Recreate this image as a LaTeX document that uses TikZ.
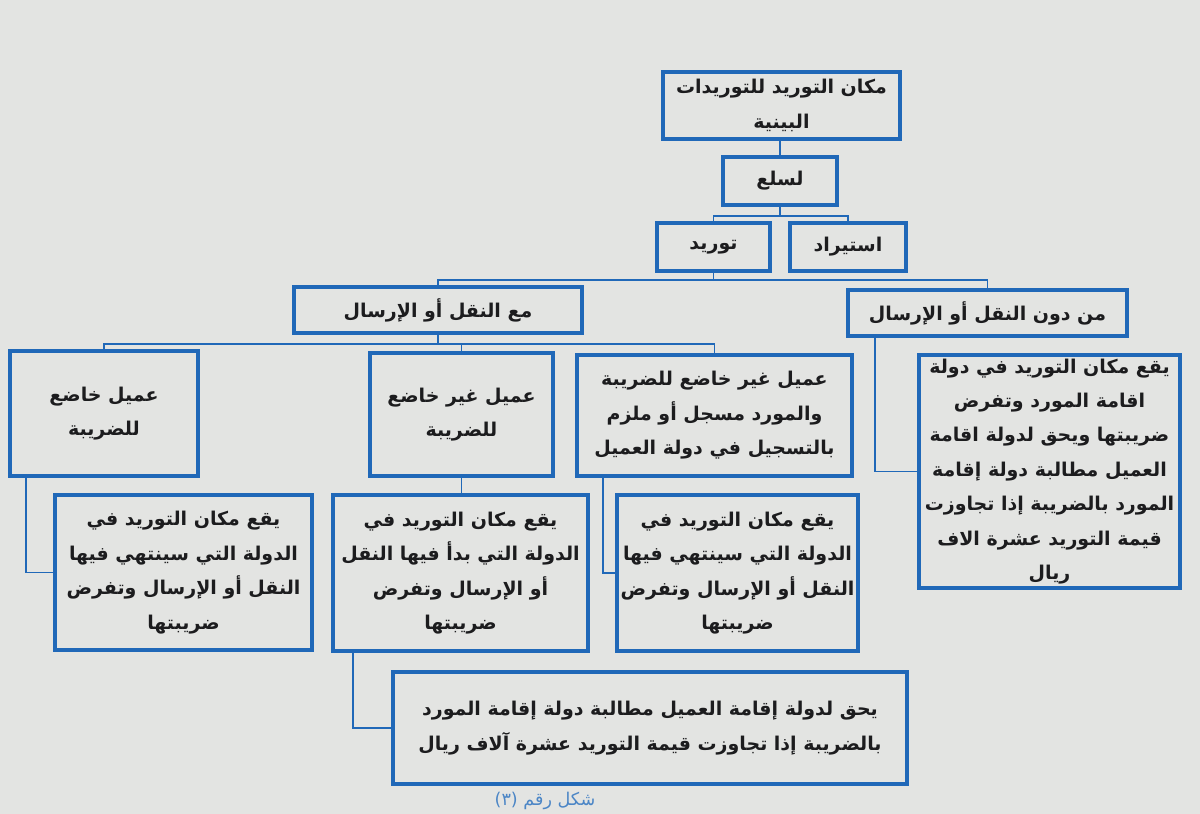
\documentclass[tikz,border=0pt]{standalone}
\usepackage{fontspec}
\usepackage{tikz}
\usetikzlibrary{positioning,calc}
\TeXXeTstate=1
\newfontfamily\arabicfont[Script=Arabic]{DejaVu Sans}
\definecolor{papier}{RGB}{227,228,226}
\definecolor{cadre}{RGB}{32,104,184}
\definecolor{encre}{RGB}{28,28,30}
\newcommand{\ar}[1]{\beginR #1\endR}

\begin{document}
\begin{tikzpicture}[
  x=0.02cm, y=-0.02cm,
  boite/.style={draw=cadre, line width=1.9pt, fill=papier, inner sep=0pt,
                text=encre, align=center,
                font=\arabicfont\bfseries\fontsize{10.8}{19.6}\selectfont},
  lien/.style={draw=cadre, line width=1pt}
]

%% Page
\clip (0,0) rectangle (1200,814);
\fill[papier] (0,0) rectangle (1200,814);

%% Top levels
\node[boite, minimum width=4.74cm, minimum height=1.34cm] (haut) at (781.5,105.5)
  {\ar{مكان التوريد للتوريدات}\\\ar{البينية}};
\node[boite, minimum width=2.28cm, minimum height=0.96cm] (sila) at (780,181) {\ar{لسلع}};
\node[boite, minimum width=2.26cm, minimum height=0.96cm] (tawrid) at (713.5,247) {\ar{توريد}};
\node[boite, minimum width=2.32cm, minimum height=0.96cm] (istirad) at (848,247) {\ar{استيراد}};

%% Transport or not
\node[boite, minimum width=5.76cm, minimum height=0.92cm] (maa) at (438,310) {\ar{مع النقل أو الإرسال}};
\node[boite, minimum width=5.58cm, minimum height=0.92cm] (bidun) at (987.5,313) {\ar{من دون النقل أو الإرسال}};

%% Client cases
\node[boite, minimum width=3.76cm, minimum height=2.50cm] (khadi) at (104,413.5)
  {\ar{عميل خاضع}\\\ar{للضريبة}};
\node[boite, minimum width=3.66cm, minimum height=2.46cm] (ghayr) at (461.5,414.5)
  {\ar{عميل غير خاضع}\\\ar{للضريبة}};
\node[boite, minimum width=5.50cm, minimum height=2.42cm] (musajjal) at (714.5,415.5)
  {\ar{عميل غير خاضع للضريبة}\\\ar{والمورد مسجل أو ملزم}\\\ar{بالتسجيل في دولة العميل}};
\node[boite, minimum width=5.22cm, minimum height=4.66cm] (kabir) at (1049.5,471.5)
  {\ar{يقع مكان التوريد في دولة}\\\ar{اقامة المورد وتفرض}\\\ar{ضريبتها ويحق لدولة اقامة}\\
   \ar{العميل مطالبة دولة إقامة}\\\ar{المورد بالضريبة إذا تجاوزت}\\\ar{قيمة التوريد عشرة الاف}\\\ar{ريال}};

%% Place of supply
\node[boite, minimum width=5.14cm, minimum height=3.10cm] (far1) at (183.5,572.5)
  {\ar{يقع مكان التوريد في}\\\ar{الدولة التي سينتهي فيها}\\\ar{النقل أو الإرسال وتفرض}\\\ar{ضريبتها}};
\node[boite, minimum width=5.10cm, minimum height=3.12cm] (far2) at (460.5,573)
  {\ar{يقع مكان التوريد في}\\\ar{الدولة التي بدأ فيها النقل}\\\ar{أو الإرسال وتفرض}\\\ar{ضريبتها}};
\node[boite, minimum width=4.82cm, minimum height=3.12cm] (far3) at (737.5,573)
  {\ar{يقع مكان التوريد في}\\\ar{الدولة التي سينتهي فيها}\\\ar{النقل أو الإرسال وتفرض}\\\ar{ضريبتها}};
\node[boite, minimum width=10.28cm, minimum height=2.24cm] (asfal) at (650,728)
  {\ar{يحق لدولة إقامة العميل مطالبة دولة إقامة المورد}\\\ar{بالضريبة إذا تجاوزت قيمة التوريد عشرة آلاف ريال}};

%% Caption under the chart
\node[text=cadre!80, font=\arabicfont\fontsize{10}{12}\selectfont] (legende) at (545,801) {\ar{شكل رقم (٣)}};

%% Connectors
\draw[lien] (sila.north |- haut.south) -- (sila.north);
\foreach \n in {tawrid,istirad}
  \draw[lien] (sila.south) -- ++(0,9) -| (\n.north);
\foreach \n in {maa,bidun}
  \draw[lien] (tawrid.south) -- ++(0,7) -| (\n.north);
\foreach \n in {khadi,ghayr,musajjal}
  \draw[lien] (maa.south) -- ++(0,9) -| (\n.north);
\draw[lien] ([xshift=0.58cm]bidun.south west) |- (kabir.west);
\draw[lien] ([xshift=0.36cm]khadi.south west) |- (far1.west);
\draw[lien] (ghayr.south) -- (ghayr.south |- far2.north);
\draw[lien] ([xshift=0.56cm]musajjal.south west) |- (far3.west);
\draw[lien] ([xshift=0.44cm]far2.south west) |- (asfal.west);

\end{tikzpicture}
\end{document}
